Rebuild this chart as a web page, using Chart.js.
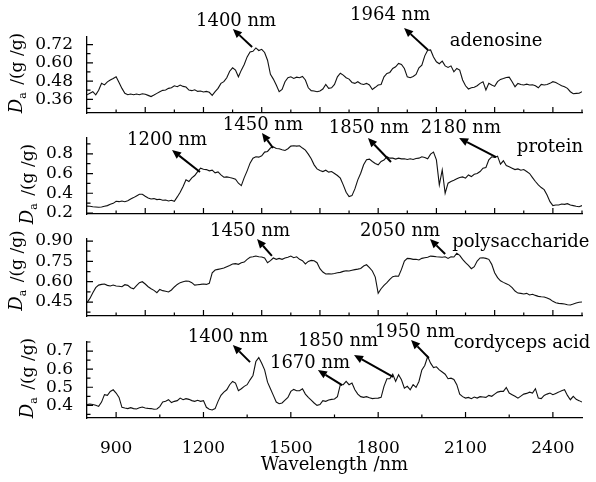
<!DOCTYPE html>
<html>
<head>
<meta charset="utf-8">
<script src="https://cdn.jsdelivr.net/npm/chart.js@4.4.1/dist/chart.umd.min.js"></script>
<style>
  html, body { margin: 0; padding: 0; background: #fff; }
  #wrap { position: relative; width: 596px; height: 482px; }
  #wrap canvas { position: absolute; left: 0; }
</style>
</head>
<body>
<div id="wrap">
  <canvas id="pAdenosine" width="596" height="116" style="top:0px"></canvas>
  <canvas id="pProtein" width="596" height="116" style="top:116px"></canvas>
  <canvas id="pPoly" width="596" height="103" style="top:217px"></canvas>
  <canvas id="pCordyceps" width="596" height="162" style="top:320px"></canvas>
</div>
<script>
// wavelength grid (nm), shared by the four spectra
const wavelength = [
  800, 810, 820, 830, 840, 850, 860, 870, 880, 890,
  900, 910, 920, 930, 940, 950, 960, 970, 980, 990,
  1000, 1010, 1020, 1030, 1040, 1050, 1060, 1070, 1080, 1090,
  1100, 1110, 1120, 1130, 1140, 1150, 1160, 1170, 1180, 1190,
  1200, 1210, 1220, 1230, 1240, 1250, 1260, 1270, 1280, 1290,
  1300, 1310, 1320, 1330, 1340, 1350, 1360, 1370, 1380, 1390,
  1400, 1410, 1420, 1430, 1440, 1450, 1460, 1470, 1480, 1490,
  1500, 1510, 1520, 1530, 1540, 1550, 1560, 1570, 1580, 1590,
  1600, 1610, 1620, 1630, 1640, 1650, 1660, 1670, 1680, 1690,
  1700, 1710, 1720, 1730, 1740, 1750, 1760, 1770, 1780, 1790,
  1800, 1810, 1820, 1830, 1840, 1850, 1860, 1870, 1880, 1890,
  1900, 1910, 1920, 1930, 1940, 1950, 1960, 1970, 1980, 1990,
  2000, 2010, 2020, 2030, 2040, 2050, 2060, 2070, 2080, 2090,
  2100, 2110, 2120, 2130, 2140, 2150, 2160, 2170, 2180, 2190,
  2200, 2210, 2220, 2230, 2240, 2250, 2260, 2270, 2280, 2290,
  2300, 2310, 2320, 2330, 2340, 2350, 2360, 2370, 2380, 2390,
  2400, 2410, 2420, 2430, 2440, 2450, 2460, 2470, 2480, 2490,
  2500
];

// D_a (g/g)
const adenosine = [
  0.39, 0.40, 0.41, 0.39, 0.42, 0.465, 0.455, 0.475, 0.487, 0.497,
  0.508, 0.47, 0.432, 0.40, 0.39, 0.395, 0.39, 0.395, 0.39, 0.397,
  0.393, 0.386, 0.378, 0.388, 0.399, 0.41, 0.419, 0.421, 0.432, 0.436,
  0.449, 0.443, 0.454, 0.445, 0.441, 0.421, 0.417, 0.423, 0.412, 0.415,
  0.408, 0.412, 0.406, 0.386, 0.41, 0.432, 0.465, 0.476, 0.502, 0.545,
  0.567, 0.552, 0.508, 0.552, 0.589, 0.639, 0.672, 0.676, 0.698, 0.681,
  0.689, 0.668, 0.617, 0.524, 0.493, 0.454, 0.41, 0.425, 0.476, 0.502,
  0.508, 0.497, 0.506, 0.502, 0.51, 0.487, 0.436, 0.417, 0.415, 0.41,
  0.415, 0.428, 0.458, 0.432, 0.436, 0.458, 0.508, 0.532, 0.519, 0.502,
  0.493, 0.471, 0.465, 0.476, 0.463, 0.458, 0.465, 0.454, 0.425, 0.439,
  0.454, 0.458, 0.508, 0.53, 0.537, 0.563, 0.574, 0.596, 0.589, 0.563,
  0.508, 0.502, 0.51, 0.524, 0.567, 0.585, 0.646, 0.683, 0.685, 0.639,
  0.607, 0.594, 0.611, 0.58, 0.57, 0.58, 0.541, 0.563, 0.552, 0.487,
  0.449, 0.428, 0.436, 0.439, 0.449, 0.465, 0.476, 0.421, 0.465, 0.454,
  0.445, 0.476, 0.491, 0.497, 0.504, 0.506, 0.476, 0.443, 0.465, 0.458,
  0.454, 0.46, 0.454, 0.456, 0.449, 0.436, 0.458, 0.454, 0.458, 0.465,
  0.476, 0.471, 0.46, 0.449, 0.443, 0.432, 0.41, 0.397, 0.399, 0.40,
  0.41
];
const protein = [
  0.27, 0.268, 0.264, 0.261, 0.258, 0.261, 0.268, 0.275, 0.288, 0.298,
  0.319, 0.315, 0.322, 0.315, 0.325, 0.342, 0.356, 0.373, 0.39, 0.39,
  0.37, 0.353, 0.342, 0.346, 0.336, 0.339, 0.329, 0.332, 0.322, 0.329,
  0.319, 0.363, 0.41, 0.468, 0.536, 0.519, 0.556, 0.58, 0.62, 0.654,
  0.644, 0.64, 0.627, 0.634, 0.607, 0.617, 0.586, 0.563, 0.566, 0.559,
  0.553, 0.542, 0.502, 0.478, 0.559, 0.627, 0.705, 0.756, 0.77, 0.766,
  0.78, 0.817, 0.824, 0.858, 0.871, 0.854, 0.851, 0.841, 0.834, 0.851,
  0.878, 0.881, 0.878, 0.881, 0.858, 0.837, 0.797, 0.749, 0.688, 0.647,
  0.63, 0.62, 0.634, 0.614, 0.62, 0.6, 0.58, 0.553, 0.485, 0.41,
  0.366, 0.376, 0.444, 0.536, 0.603, 0.688, 0.739, 0.746, 0.722, 0.702,
  0.688, 0.722, 0.736, 0.77, 0.756, 0.756, 0.746, 0.756, 0.749, 0.749,
  0.742, 0.749, 0.742, 0.753, 0.756, 0.77, 0.763, 0.749, 0.797, 0.817,
  0.739, 0.485, 0.637, 0.40, 0.502, 0.519, 0.532, 0.546, 0.559, 0.566,
  0.553, 0.586, 0.569, 0.593, 0.60, 0.62, 0.654, 0.661, 0.739, 0.77,
  0.763, 0.776, 0.695, 0.729, 0.681, 0.668, 0.654, 0.64, 0.647, 0.634,
  0.64, 0.62, 0.60, 0.559, 0.519, 0.485, 0.458, 0.437, 0.383, 0.315,
  0.275, 0.281, 0.281, 0.291, 0.288, 0.295, 0.281, 0.275, 0.268, 0.264,
  0.275
];
const polysaccharide = [
  0.445, 0.477, 0.519, 0.556, 0.575, 0.58, 0.583, 0.573, 0.568, 0.575,
  0.568, 0.566, 0.563, 0.578, 0.573, 0.556, 0.548, 0.571, 0.593, 0.60,
  0.583, 0.563, 0.548, 0.536, 0.519, 0.543, 0.534, 0.529, 0.524, 0.539,
  0.561, 0.58, 0.593, 0.60, 0.605, 0.603, 0.593, 0.575, 0.578, 0.58,
  0.583, 0.58, 0.588, 0.666, 0.686, 0.691, 0.696, 0.701, 0.711, 0.72,
  0.73, 0.733, 0.728, 0.74, 0.745, 0.765, 0.78, 0.784, 0.789, 0.784,
  0.782, 0.775, 0.74, 0.755, 0.775, 0.765, 0.772, 0.765, 0.775, 0.78,
  0.789, 0.777, 0.784, 0.765, 0.755, 0.731, 0.75, 0.757, 0.755, 0.74,
  0.696, 0.671, 0.657, 0.659, 0.657, 0.661, 0.666, 0.669, 0.676, 0.681,
  0.679, 0.684, 0.689, 0.693, 0.698, 0.716, 0.725, 0.703, 0.679, 0.634,
  0.514, 0.548, 0.573, 0.593, 0.617, 0.637, 0.642, 0.64, 0.691, 0.752,
  0.772, 0.77, 0.765, 0.765, 0.76, 0.772, 0.777, 0.78, 0.789, 0.787,
  0.784, 0.782, 0.78, 0.784, 0.772, 0.784, 0.782, 0.809, 0.794, 0.765,
  0.74, 0.72, 0.696, 0.711, 0.752, 0.775, 0.777, 0.772, 0.765, 0.728,
  0.666, 0.63, 0.607, 0.595, 0.585, 0.575, 0.556, 0.531, 0.516, 0.514,
  0.509, 0.514, 0.502, 0.507, 0.499, 0.492, 0.489, 0.487, 0.48, 0.47,
  0.455, 0.445, 0.44, 0.438, 0.435, 0.43, 0.428, 0.435, 0.443, 0.448,
  0.45
];
const cordycepsAcid = [
  0.404, 0.407, 0.405, 0.40, 0.394, 0.418, 0.459, 0.455, 0.477, 0.486,
  0.468, 0.444, 0.389, 0.385, 0.382, 0.387, 0.382, 0.38, 0.387, 0.391,
  0.385, 0.383, 0.382, 0.378, 0.38, 0.393, 0.418, 0.422, 0.431, 0.415,
  0.422, 0.426, 0.44, 0.431, 0.437, 0.433, 0.426, 0.422, 0.428, 0.422,
  0.426, 0.389, 0.378, 0.374, 0.382, 0.422, 0.455, 0.473, 0.486, 0.514,
  0.532, 0.523, 0.481, 0.492, 0.505, 0.514, 0.541, 0.565, 0.642, 0.664,
  0.633, 0.596, 0.528, 0.492, 0.455, 0.418, 0.409, 0.413, 0.429, 0.444,
  0.477, 0.488, 0.481, 0.481, 0.492, 0.462, 0.444, 0.429, 0.413, 0.40,
  0.404, 0.426, 0.422, 0.429, 0.433, 0.435, 0.448, 0.514, 0.514, 0.532,
  0.514, 0.523, 0.486, 0.462, 0.448, 0.444, 0.448, 0.442, 0.437, 0.439,
  0.44, 0.444, 0.505, 0.547, 0.547, 0.572, 0.532, 0.569, 0.541, 0.495,
  0.505, 0.486, 0.514, 0.499, 0.532, 0.596, 0.62, 0.67, 0.633, 0.609,
  0.613, 0.596, 0.584, 0.572, 0.547, 0.55, 0.543, 0.514, 0.462, 0.448,
  0.44, 0.444, 0.437, 0.446, 0.44, 0.448, 0.446, 0.444, 0.455, 0.45,
  0.462, 0.473, 0.477, 0.477, 0.499, 0.468, 0.459, 0.45, 0.44, 0.451,
  0.462, 0.466, 0.473, 0.468, 0.492, 0.44, 0.437, 0.455, 0.462, 0.468,
  0.459, 0.466, 0.473, 0.481, 0.486, 0.455, 0.431, 0.45, 0.433, 0.426,
  0.418
];

// tick labels
const xTickLabels = ['900', '1200', '1500', '1800', '2100', '2400'];
const yTicksAdenosine = ['0.36', '0.48', '0.60', '0.72'];
const yTicksProtein = ['0.2', '0.4', '0.6', '0.8'];
const yTicksPoly = ['0.45', '0.60', '0.75', '0.90'];
const yTicksCordyceps = ['0.4', '0.5', '0.6', '0.7'];

// peak labels: text centre, arrow from curve to text (wavelength, D_a)
const notesAdenosine = [
  { text: '1400 nm', at: [1312, 0.875], from: [1367, 0.704], to: [1301, 0.823] },
  { text: '1964 nm', at: [1841, 0.915], from: [1971, 0.684], to: [1889, 0.829] },
  { text: 'adenosine', at: [2205, 0.744] }
];
const notesProtein = [
  { text: '1200 nm', at: [1075, 0.94], from: [1188, 0.616], to: [1092, 0.838] },
  { text: '1450 nm', at: [1404, 1.092], from: [1439, 0.859], to: [1401, 1.011] },
  { text: '1850 nm', at: [1768, 1.061], from: [1844, 0.717], to: [1765, 0.96] },
  { text: '2180 nm', at: [2084, 1.061], from: [2205, 0.767], to: [2078, 0.96] },
  { text: 'protein', at: [2390, 0.869] }
];
const notesPoly = [
  { text: '1450 nm', at: [1360, 0.974], from: [1435, 0.79], to: [1384, 0.915] },
  { text: '2050 nm', at: [1875, 0.974], from: [2030, 0.804], to: [1978, 0.915] },
  { text: 'polysaccharide', at: [2290, 0.893] }
];
const notesCordyceps = [
  { text: '1400 nm', at: [1284, 0.778], from: [1360, 0.639], to: [1301, 0.733] },
  { text: '1670 nm', at: [1566, 0.634], from: [1676, 0.512], to: [1593, 0.595] },
  { text: '1850 nm', at: [1662, 0.756], from: [1851, 0.557], to: [1717, 0.678] },
  { text: '1950 nm', at: [1926, 0.805], from: [1974, 0.662], to: [1913, 0.761] },
  { text: 'cordyceps acid', at: [2294, 0.744] }
];

const FONT = 'DejaVu Serif';
Chart.defaults.font.family = FONT;
Chart.defaults.font.size = 17;
Chart.defaults.color = '#000';

// inward ticks, rotated D_a title and peak arrows for one panel
function panelDecor(o) {
  return {
    id: 'panelDecor',
    afterDraw(chart) {
      const { ctx, chartArea: a, scales: { x, y } } = chart;
      ctx.save();
      ctx.strokeStyle = '#000';
      ctx.fillStyle = '#000';
      ctx.lineWidth = 1.2;
      ctx.beginPath();
      for (let v = 900; v <= x.max; v += o.xStep) {
        const px = x.getPixelForValue(v);
        const len = v % o.xMajor === 0 ? 6 : 3.5;
        ctx.moveTo(px, a.bottom);
        ctx.lineTo(px, a.bottom - len);
      }
      const major = o.yTicks.map(Number);
      const half = (major[1] - major[0]) / 2;
      for (let i = -4; i < major.length * 2 + 4; i++) {
        const v = major[0] + i * half;
        if (v < y.min - 1e-9 || v > y.max + 1e-9) continue;
        const py = y.getPixelForValue(v);
        const len = i % 2 === 0 ? 6 : 3.5;
        ctx.moveTo(a.left, py);
        ctx.lineTo(a.left + len, py);
      }
      ctx.stroke();

      // y title: D (italic) with subscript a, then /(g/g)
      ctx.font = `17px ${FONT}`;
      const labelW = Math.max(...o.yTicks.map(t => ctx.measureText(t).width));
      const xb = a.left - 6 - labelW - 21;
      const cy = (a.top + a.bottom) / 2 + o.titleShift;
      ctx.translate(xb, cy);
      ctx.rotate(-Math.PI / 2);
      ctx.textBaseline = 'alphabetic';
      ctx.textAlign = 'left';
      ctx.font = `italic 18px ${FONT}`;
      const wD = ctx.measureText('D').width;
      ctx.font = `11px ${FONT}`;
      const wa = ctx.measureText('a').width + 2;
      ctx.font = `17px ${FONT}`;
      const rest = ' /(g /g)';
      const wr = ctx.measureText(rest).width;
      let sx = -(wD + wa + wr) / 2;
      ctx.font = `italic 18px ${FONT}`;
      ctx.fillText('D', sx, 0); sx += wD;
      ctx.font = `11px ${FONT}`;
      ctx.fillText('a', sx, 4); sx += wa;
      ctx.font = `17px ${FONT}`;
      ctx.fillText(rest, sx, 0);
      ctx.setTransform(1, 0, 0, 1, 0, 0);

      // peak labels and arrows
      ctx.font = `18px ${FONT}`;
      for (const n of o.notes) {
        if (n.from) {
          const x0 = x.getPixelForValue(n.from[0]), y0 = y.getPixelForValue(n.from[1]);
          const x1 = x.getPixelForValue(n.to[0]), y1 = y.getPixelForValue(n.to[1]);
          const ang = Math.atan2(y1 - y0, x1 - x0);
          const head = 9, w = 4;
          const bx = x1 - head * Math.cos(ang), by = y1 - head * Math.sin(ang);
          ctx.lineWidth = 2;
          ctx.beginPath();
          ctx.moveTo(x0, y0);
          ctx.lineTo(bx, by);
          ctx.stroke();
          ctx.beginPath();
          ctx.moveTo(x1, y1);
          ctx.lineTo(bx + w * Math.sin(ang), by - w * Math.cos(ang));
          ctx.lineTo(bx - w * Math.sin(ang), by + w * Math.cos(ang));
          ctx.closePath();
          ctx.fill();
        }
        ctx.textAlign = 'center';
        ctx.textBaseline = 'middle';
        ctx.fillText(n.text, x.getPixelForValue(n.at[0]), y.getPixelForValue(n.at[1]));
      }
      ctx.restore();
    }
  };
}

function drawPanel(id, series, o) {
  new Chart(document.getElementById(id), {
    type: 'line',
    data: {
      datasets: [{
        data: wavelength.map((w, i) => ({ x: w, y: series[i] })),
        borderColor: '#111',
        borderWidth: 1.1,
        pointRadius: 0,
        tension: 0
      }]
    },
    options: {
      responsive: false,
      animation: false,
      devicePixelRatio: 1,
      layout: { padding: { left: 0, right: 14, top: o.top, bottom: o.bottom } },
      plugins: { legend: { display: false }, tooltip: { enabled: false } },
      scales: {
        x: {
          type: 'linear',
          min: 800,
          max: 2500,
          grid: { display: false },
          border: { color: '#000', width: 1.3 },
          ticks: {
            display: o.xLabels, padding: 12, autoSkip: false, maxRotation: 0,
            callback: (v, i) => xTickLabels[i]
          },
          afterBuildTicks: s => { s.ticks = xTickLabels.map(t => ({ value: Number(t) })); },
          title: {
            display: o.xLabels, text: 'Wavelength /nm',
            font: { size: 18 }, padding: { top: 0, bottom: 6 }
          },
          afterFit: s => { s.height = o.xHeight; s.paddingLeft = 0; s.paddingRight = 0; }
        },
        y: {
          min: o.yMin,
          max: o.yMax,
          grid: { display: false },
          border: { color: '#000', width: 1.3 },
          ticks: { padding: 6, callback: (v, i) => o.yTicks[i] },
          afterBuildTicks: s => { s.ticks = o.yTicks.map(t => ({ value: Number(t) })); },
          afterFit: s => { s.width = 87; s.paddingTop = 0; s.paddingBottom = 0; }
        }
      }
    },
    plugins: [panelDecor(o)]
  });
}

drawPanel('pAdenosine', adenosine, {
  yMin: 0.27, yMax: 0.77, yTicks: yTicksAdenosine, notes: notesAdenosine,
  top: 37, bottom: 3, xHeight: 0, xLabels: false, xStep: 100, xMajor: 200, titleShift: -2
});
drawPanel('pProtein', protein, {
  yMin: 0.19, yMax: 0.96, yTicks: yTicksProtein, notes: notesProtein,
  top: 22, bottom: 18, xHeight: 0, xLabels: false, xStep: 100, xMajor: 200, titleShift: 8
});
drawPanel('pPoly', polysaccharide, {
  yMin: 0.347, yMax: 0.915, yTicks: yTicksPoly, notes: notesPoly,
  top: 22, bottom: 4, xHeight: 0, xLabels: false, xStep: 100, xMajor: 200, titleShift: -7
});
drawPanel('pCordyceps', cordycepsAcid, {
  yMin: 0.33, yMax: 0.75, yTicks: yTicksCordyceps, notes: notesCordyceps,
  top: 22, bottom: 0, xHeight: 64, xLabels: true, xStep: 150, xMajor: 300, titleShift: -2
});
</script>
</body>
</html>
